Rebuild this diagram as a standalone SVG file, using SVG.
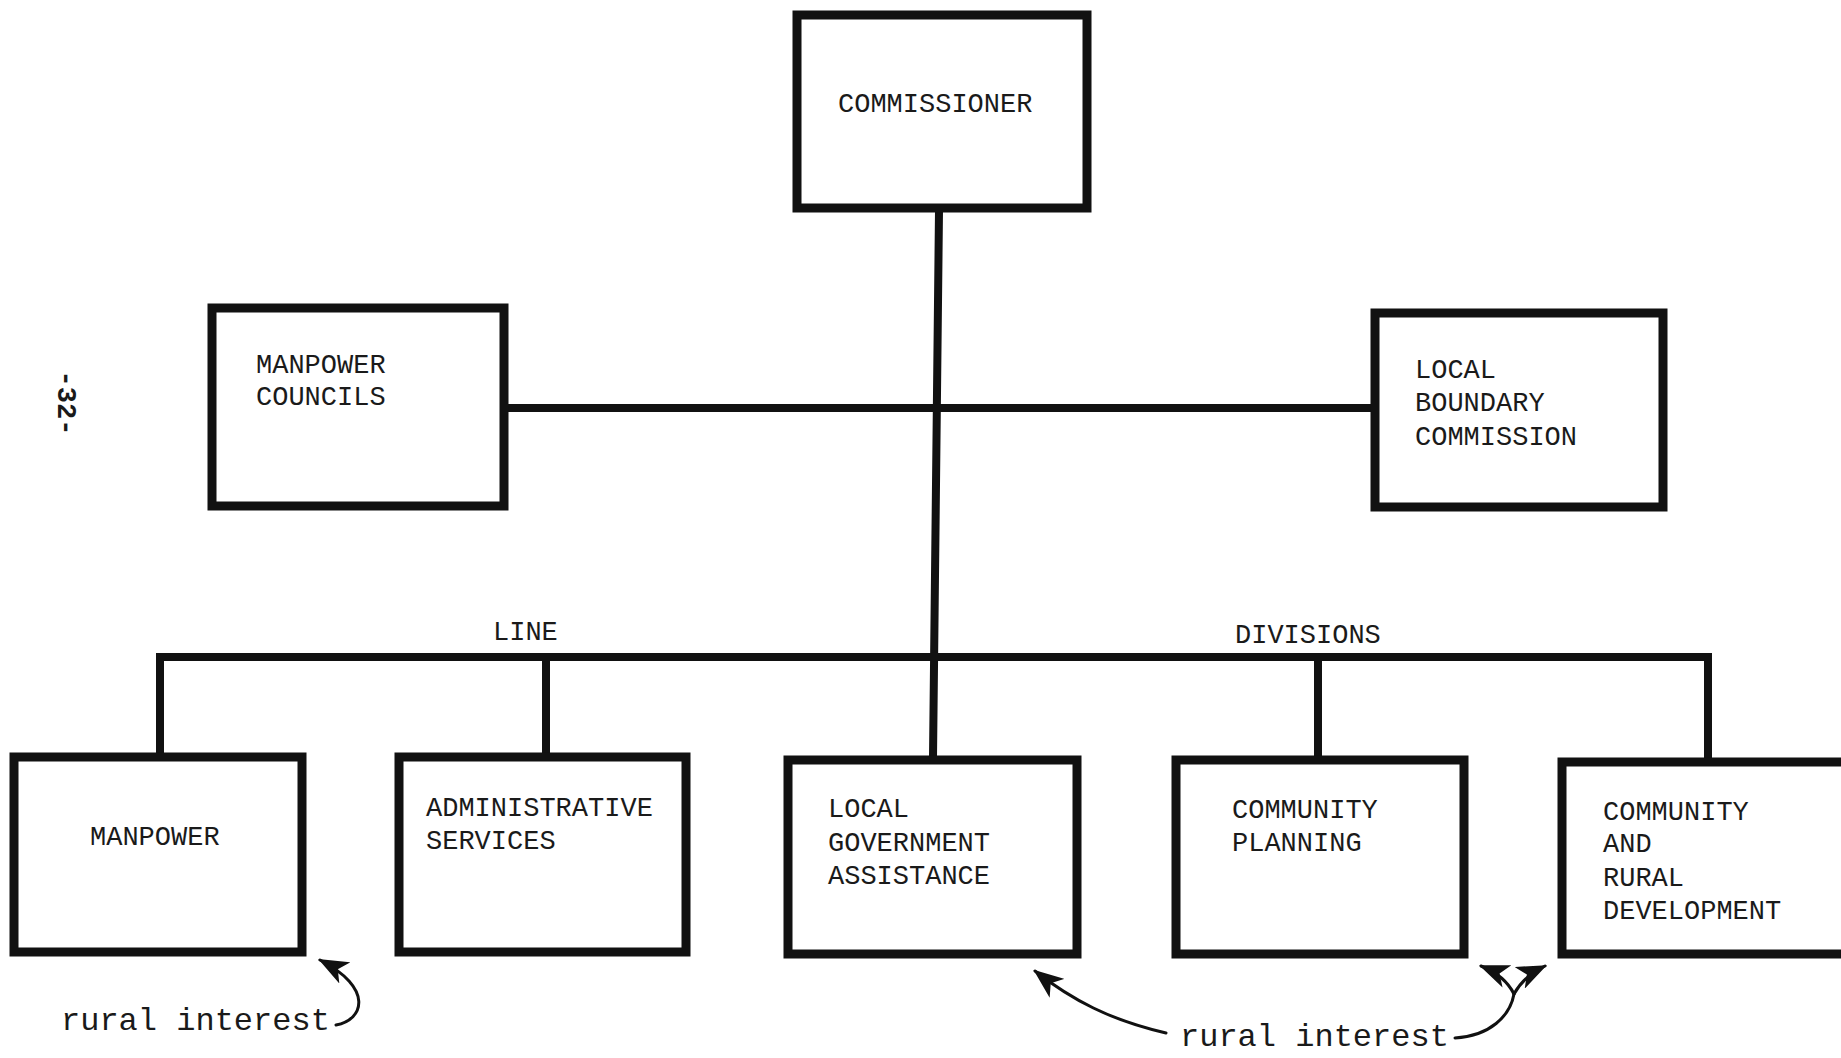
<svg xmlns="http://www.w3.org/2000/svg" width="1841" height="1058" viewBox="0 0 1841 1058">
  <style>
    .box { fill: #ffffff; stroke: #111111; stroke-width: 9; stroke-linejoin: miter; }
    .wire { fill: none; stroke: #111111; stroke-width: 8; stroke-linecap: square; }
    .note { fill: none; stroke: #111111; stroke-width: 3; stroke-linecap: round; }
    .lbl { font-family: "Liberation Mono", "DejaVu Sans Mono", monospace; font-size: 27px; fill: #1a1a1a; }
    .ann { font-family: "Liberation Mono", "DejaVu Sans Mono", monospace; font-size: 32px; fill: #1a1a1a; }
  </style>
  <defs>
    <marker id="head" viewBox="0 0 30 24" markerWidth="30" markerHeight="24" refX="28" refY="12" orient="auto" markerUnits="userSpaceOnUse">
      <path d="M0,0 L30,12 L0,24 L8,12 Z" fill="#111111"/>
    </marker>
  </defs>

  <rect width="1841" height="1058" fill="#ffffff"/>

  <!-- page number -->
  <text class="lbl" font-size="26" font-weight="bold" transform="translate(58 403) rotate(90)" text-anchor="middle">-32-</text>

  <!-- connectors -->
  <g id="connectors">
    <line class="wire" x1="939" y1="211" x2="933" y2="758"/>
    <line class="wire" x1="507" y1="408" x2="1371" y2="408"/>
    <polyline class="wire" points="160,757 160,657 1708,657 1708,760"/>
    <line class="wire" x1="546" y1="657" x2="546" y2="757"/>
    <line class="wire" x1="1318" y1="657" x2="1318" y2="760"/>
  </g>

  <g id="commissioner">
    <rect class="box" x="797" y="15" width="290" height="193"/>
    <text class="lbl" x="838" y="112">COMMISSIONER</text>
  </g>

  <g id="manpower-councils">
    <rect class="box" x="212" y="308" width="292" height="198"/>
    <text class="lbl" x="256" y="373">MANPOWER</text>
    <text class="lbl" x="256" y="405">COUNCILS</text>
  </g>

  <g id="local-boundary-commission">
    <rect class="box" x="1375" y="313" width="288" height="194"/>
    <text class="lbl" x="1415" y="378">LOCAL</text>
    <text class="lbl" x="1415" y="411">BOUNDARY</text>
    <text class="lbl" x="1415" y="445">COMMISSION</text>
  </g>

  <text class="lbl" x="493" y="640">LINE</text>
  <text class="lbl" x="1235" y="643">DIVISIONS</text>

  <g id="manpower">
    <rect class="box" x="14" y="757" width="288" height="195"/>
    <text class="lbl" x="90" y="845">MANPOWER</text>
  </g>

  <g id="administrative-services">
    <rect class="box" x="399" y="757" width="287" height="195"/>
    <text class="lbl" x="426" y="816">ADMINISTRATIVE</text>
    <text class="lbl" x="426" y="849">SERVICES</text>
  </g>

  <g id="local-government-assistance">
    <rect class="box" x="788" y="760" width="289" height="194"/>
    <text class="lbl" x="828" y="817">LOCAL</text>
    <text class="lbl" x="828" y="851">GOVERNMENT</text>
    <text class="lbl" x="828" y="884">ASSISTANCE</text>
  </g>

  <g id="community-planning">
    <rect class="box" x="1176" y="760" width="288" height="194"/>
    <text class="lbl" x="1232" y="818">COMMUNITY</text>
    <text class="lbl" x="1232" y="851">PLANNING</text>
  </g>

  <g id="community-rural-development">
    <rect class="box" x="1562" y="762" width="300" height="192"/>
    <text class="lbl" x="1603" y="820">COMMUNITY</text>
    <text class="lbl" x="1603" y="852">AND</text>
    <text class="lbl" x="1603" y="886">RURAL</text>
    <text class="lbl" x="1603" y="919">DEVELOPMENT</text>
  </g>

  <!-- rural interest notes -->
  <g id="notes">
    <text class="ann" x="61" y="1030">rural interest</text>
    <path class="note" d="M336 1025 C364 1020 374 988 320 960" marker-end="url(#head)"/>
    <text class="ann" x="1180" y="1046">rural interest</text>
    <path class="note" d="M1166 1033 C1110 1020 1072 1000 1035 971" marker-end="url(#head)"/>
    <path class="note" d="M1455 1038 C1490 1036 1510 1016 1514 994"/>
    <path class="note" d="M1514 994 C1508 982 1496 972 1481 966" marker-end="url(#head)"/>
    <path class="note" d="M1514 994 C1520 983 1530 973 1545 966" marker-end="url(#head)"/>
  </g>
</svg>
